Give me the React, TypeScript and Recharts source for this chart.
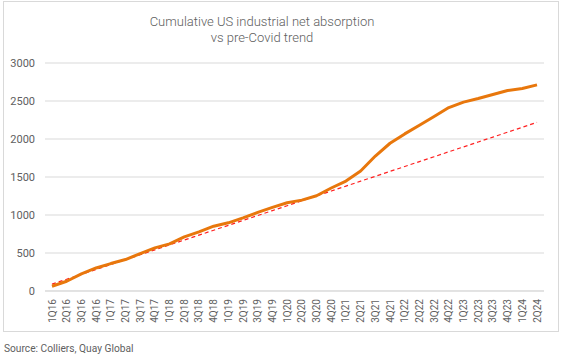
import React from "react";
import { LineChart, Line, XAxis, YAxis, CartesianGrid } from "recharts";

const quarters = [
  "1Q16", "2Q16", "3Q16", "4Q16", "1Q17", "2Q17", "3Q17", "4Q17",
  "1Q18", "2Q18", "3Q18", "4Q18", "1Q19", "2Q19", "3Q19", "4Q19",
  "1Q20", "2Q20", "3Q20", "4Q20", "1Q21", "2Q21", "3Q21", "4Q21",
  "1Q22", "2Q22", "3Q22", "4Q22", "1Q23", "2Q23", "3Q23", "4Q23",
  "1Q24", "2Q24",
];

const cumulativeAbsorption = [
  62, 128, 225, 303, 361, 414, 493, 567,
  620, 712, 778, 853, 897, 963, 1034, 1100,
  1161, 1196, 1253, 1355, 1447, 1579, 1776, 1944,
  2067, 2181, 2295, 2414, 2485, 2532, 2585, 2638,
  2664, 2712,
];

const preCovidTrend = [
  90, 155, 219, 284, 348, 413, 477, 542,
  606, 671, 735, 800, 864, 929, 993, 1058,
  1122, 1187, 1251, 1316, 1380, 1445, 1509, 1574,
  1638, 1703, 1767, 1832, 1896, 1961, 2025, 2090,
  2154, 2219,
];

const yTicks = [0, 500, 1000, 1500, 2000, 2500, 3000];

const data = quarters.map((q, i) => ({
  q,
  actual: cumulativeAbsorption[i],
  trend: preCovidTrend[i],
}));

const FONT = "Roboto, 'Noto Sans', sans-serif";
const TXT = "#606060";

const XTick = (props: any) => {
  const { x, y, payload } = props;
  return (
    <text
      x={x}
      y={y}
      transform={`rotate(-90, ${x}, ${y})`}
      textAnchor="end"
      dominantBaseline="central"
      fontSize={10}
      fontFamily={FONT}
      fill={TXT}
    >
      {payload.value}
    </text>
  );
};

export default function App() {
  return (
    <div
      style={{
        position: "absolute",
        left: 0,
        top: 0,
        width: 563,
        height: 359,
        background: "#fff",
        fontFamily: FONT,
      }}
    >
      <div
        style={{
          position: "absolute",
          left: 3,
          top: 1,
          width: 556,
          height: 331,
          boxSizing: "border-box",
          border: "1px solid #d9d9d9",
        }}
      />
      <div
        style={{
          position: "absolute",
          left: 0,
          top: 14,
          width: 524,
          textAlign: "center",
          fontSize: 13,
          fontWeight: 300,
          lineHeight: "16px",
          color: TXT,
        }}
      >
        Cumulative US industrial net absorption
        <br />
        vs pre-Covid trend
      </div>
      <div style={{ position: "absolute", left: 0, top: 0 }}>
        <LineChart
          width={563}
          height={340}
          data={data}
          margin={{ top: 63, right: 19, bottom: 9, left: 5 }}
        >
          <CartesianGrid vertical={false} stroke="#d9d9d9" strokeWidth={1} />
          <XAxis
            dataKey="q"
            interval={0}
            height={40}
            axisLine={{ stroke: "#d9d9d9" }}
            tickLine={false}
            padding={{ left: 7, right: 7 }}
            tick={<XTick />}
          />
          <YAxis
            width={40}
            domain={[0, 3000]}
            ticks={yTicks}
            axisLine={false}
            tickLine={false}
            tickMargin={4}
            tick={{ fontSize: 11, fontFamily: FONT, fill: TXT }}
          />
          <Line
            type="linear"
            dataKey="trend"
            stroke="#ff2020"
            strokeWidth={1.2}
            strokeDasharray="4 3"
            dot={false}
            isAnimationActive={false}
          />
          <Line
            type="linear"
            dataKey="actual"
            stroke="#e8770c"
            strokeWidth={3}
            strokeLinejoin="round"
            dot={false}
            isAnimationActive={false}
          />
        </LineChart>
      </div>
      <div
        style={{
          position: "absolute",
          left: 4,
          top: 343,
          fontSize: 10.2,
          color: TXT,
          whiteSpace: "nowrap",
        }}
      >
        Source: Colliers, Quay Global
      </div>
    </div>
  );
}
